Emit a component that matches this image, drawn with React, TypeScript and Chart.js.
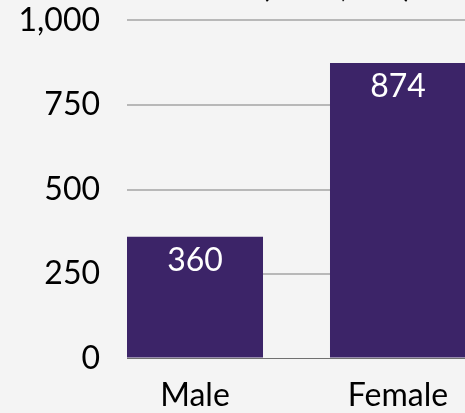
import { useEffect, useRef } from 'react';
import { Chart, registerables } from 'chart.js';

Chart.register(...registerables);

const categories = ['Male', 'Female'];
const counts = [360, 874];
const yTicks = [0, 250, 500, 750, 1000];
const titleText = 'Gender Count (n = 1,234)';

export default function App() {
  const ref = useRef<HTMLCanvasElement>(null);

  useEffect(() => {
    if (!ref.current) return;
    const labelPlugin = {
      id: 'barValues',
      afterDatasetsDraw(chart: any) {
        const ctx = chart.ctx;
        const meta = chart.getDatasetMeta(0);
        ctx.save();
        ctx.fillStyle = '#ffffff';
        ctx.font = '32px Lato';
        ctx.textAlign = 'center';
        ctx.textBaseline = 'alphabetic';
        meta.data.forEach((bar: any, i: number) => {
          ctx.fillText(String(counts[i]), bar.x, bar.y + 34);
        });
        ctx.restore();
      },
    };

    const chart = new Chart(ref.current, {
      type: 'bar',
      data: {
        datasets: [
          {
            data: categories.map((_, i) => ({ x: i, y: counts[i] })),
            backgroundColor: '#3c2468',
            categoryPercentage: 1,
            barPercentage: 0.67,
          },
        ],
      },
      options: {
        animation: false,
        responsive: false,
        layout: { padding: { left: 0, right: 34, top: 0, bottom: 1 } },
        plugins: {
          legend: { display: false },
          tooltip: { enabled: false },
          title: {
            display: true,
            text: titleText,
            color: '#000000',
            font: { family: 'Lato', size: 32, weight: 'normal' },
            padding: { top: 7, bottom: 15 },
          },
        },
        scales: {
          x: {
            type: 'linear',
            min: -0.335,
            max: 1.335,
            offset: false,
            afterBuildTicks: (s: any) => {
              s.ticks = categories.map((_, i) => ({ value: i }));
            },
            grid: { display: false, drawTicks: false, offset: false },
            border: { display: true, color: '#707070', width: 1 },
            ticks: {
              autoSkip: false,
              maxRotation: 0,
              minRotation: 0,
              padding: 17.5,
              color: '#000000',
              font: { family: 'Lato', size: 32 },
              callback: (v: any) => categories[Number(v)] ?? '',
            },
          },
          y: {
            min: 0,
            max: 1000,
            afterFit: (s: any) => {
              s.width = 127;
            },
            afterBuildTicks: (s: any) => {
              s.ticks = yTicks.map((v) => ({ value: v }));
            },
            grid: {
              color: (c: any) => (c.tick && c.tick.value === 0 ? 'rgba(0,0,0,0)' : '#b8b8b8'),
              lineWidth: 2,
              drawTicks: false,
            },
            border: { display: false },
            ticks: {
              padding: 27,
              color: '#000000',
              font: { family: 'Lato', size: 32 },
              callback: (v: any) => Number(v).toLocaleString('en-US'),
            },
          },
        },
      },
      plugins: [labelPlugin],
    });
    return () => chart.destroy();
  }, []);

  return (
    <div
      style={{
        position: 'fixed',
        left: 0,
        top: -40,
        width: 500,
        height: 473,
        background: '#f4f4f4',
      }}
    >
      <canvas ref={ref} width={500} height={473} style={{ display: 'block' }} />
    </div>
  );
}
